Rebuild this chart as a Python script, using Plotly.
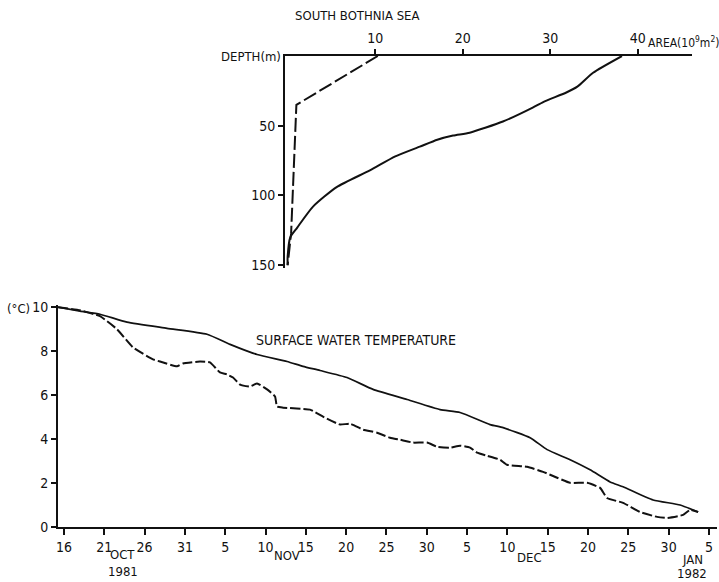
import plotly.graph_objects as go

# ---- South Bothnia Sea hypsography (area vs depth) ----
area_total = [38.2, 34.9, 33.1, 31.9, 29.2, 28.0, 24.6, 20.8, 18.9, 17.1, 15.1,
              12.3, 9.4, 5.6, 2.9, 1.1, 0.3, 0.0, 0.0]
depth_total = [0, 12, 22, 26, 33, 37, 47, 55, 57, 60, 65,
               72, 82, 94, 108, 123, 130, 144, 150]

area_deep = [10.3, 1.0, 0.4, 0.0]
depth_deep = [0, 35, 127, 150]

area_ticks = [10, 20, 30, 40]
depth_ticks = [50, 100, 150]

# ---- Surface water temperature, days counted from 16 Oct 1981 ----
day_solid = [-0.74, 2.0, 4.47, 7.82, 12.78, 17.74, 20.6, 23.95, 27.67, 29.65,
             31.76, 35.11, 38.34, 42.56, 46.65, 49.13, 52.85, 54.47, 57.82,
             59.93, 62.78, 65.26, 67.74, 69.35, 73.08, 76.43, 78.66]
temp_solid = [10.0, 9.82, 9.68, 9.32, 9.04, 8.77, 8.31, 7.85, 7.53, 7.31,
              7.12, 6.80, 6.26, 5.80, 5.34, 5.21, 4.66, 4.52, 4.06,
              3.52, 3.06, 2.60, 2.05, 1.83, 1.23, 1.00, 0.68]

day_dashed = [-0.74, 2.0, 4.47, 6.58, 8.56, 11.04, 11.91, 14.02, 14.76, 16.87,
              18.11, 19.35, 20.22, 20.97, 21.84, 23.08, 23.95, 25.19, 26.18,
              26.43, 27.17, 30.52, 32.13, 34.24, 35.48, 37.10, 38.83, 40.45,
              41.69, 43.30, 45.04, 46.28, 47.89, 49.13, 50.37, 51.24, 52.48,
              54.09, 54.96, 57.44, 59.43, 61.17, 62.78, 64.89, 66.50, 67.37,
              69.35, 71.46, 73.57, 74.81, 76.80, 77.67, 78.66]
temp_dashed = [10.0, 9.86, 9.59, 9.0, 8.17, 7.63, 7.53, 7.31, 7.44, 7.53,
               7.49, 7.03, 6.94, 6.80, 6.48, 6.39, 6.53, 6.26, 5.94,
               5.48, 5.43, 5.34, 5.02, 4.66, 4.70, 4.43, 4.29, 4.06,
               3.97, 3.84, 3.84, 3.65, 3.61, 3.70, 3.61, 3.38, 3.24,
               3.06, 2.83, 2.74, 2.51, 2.24, 2.01, 2.01, 1.78, 1.32,
               1.10, 0.68, 0.46, 0.41, 0.55, 0.78, 0.68]

day_ticks = list(range(0, 81, 5))
day_tick_labels = ["16", "21", "26", "31", "5", "10", "15", "20", "25", "30",
                   "5", "10", "15", "20", "25", "30", "5"]
temp_ticks = [0, 2, 4, 6, 8, 10]

# month labels: (text, day position, pixel y of centre)
month_labels = [("OCT", 7.3, 554), ("1981", 7.3, 571), ("NOV", 27.7, 555),
                ("DEC", 57.7, 557), ("JAN", 77.9, 559), ("1982", 77.9, 573)]

W, H = 719, 582
FONT = "DejaVu Sans Condensed, Liberation Sans Narrow, Arial Narrow, sans-serif"
INK = "#111111"


def px(x):
    return x / W


def py(y):
    return 1 - y / H


fig = go.Figure()

fig.add_trace(go.Scatter(x=area_total, y=depth_total, mode="lines",
                         line=dict(color=INK, width=2, shape="spline", smoothing=0.6),
                         xaxis="x2", yaxis="y2"))
fig.add_trace(go.Scatter(x=area_deep, y=depth_deep, mode="lines",
                         line=dict(color=INK, width=2, dash="14px,4px"),
                         xaxis="x2", yaxis="y2"))

fig.add_trace(go.Scatter(x=day_solid, y=temp_solid, mode="lines",
                         line=dict(color=INK, width=1.7, shape="spline", smoothing=0.5),
                         xaxis="x", yaxis="y"))
fig.add_trace(go.Scatter(x=day_dashed, y=temp_dashed, mode="lines",
                         line=dict(color=INK, width=2, dash="10px,3px",
                                   shape="spline", smoothing=0.4),
                         xaxis="x", yaxis="y"))

tickfont = dict(family=FONT, size=14, color=INK)

fig.update_layout(
    width=W, height=H,
    margin=dict(l=0, r=0, t=0, b=0, autoexpand=False),
    paper_bgcolor="white", plot_bgcolor="white",
    showlegend=False,
    # temperature panel
    xaxis=dict(domain=[px(58), px(717)], range=[-0.74, 81.0],
               showline=True, linecolor=INK, linewidth=2,
               ticks="outside", ticklen=6, tickwidth=2, tickcolor=INK,
               tickvals=day_ticks, ticktext=day_tick_labels,
               tickfont=tickfont, showgrid=False, zeroline=False,
               anchor="y"),
    yaxis=dict(domain=[py(527), py(305)], range=[0, 10.1],
               showline=True, linecolor=INK, linewidth=2,
               ticks="outside", ticklen=5, tickwidth=2, tickcolor=INK,
               tickvals=temp_ticks, tickfont=tickfont,
               showgrid=False, zeroline=False, anchor="x"),
    # hypsography panel
    xaxis2=dict(domain=[px(285), px(692)], range=[-0.3, 46.2],
                side="top", anchor="y2",
                showline=True, linecolor=INK, linewidth=2,
                ticks="outside", ticklen=5, tickwidth=2, tickcolor=INK,
                tickvals=area_ticks, tickfont=tickfont,
                showgrid=False, zeroline=False),
    yaxis2=dict(domain=[py(268), py(56)], range=[152, 0],
                anchor="x2",
                showline=True, linecolor=INK, linewidth=2,
                ticks="outside", ticklen=5, tickwidth=2, tickcolor=INK,
                tickvals=depth_ticks, tickfont=tickfont,
                showgrid=False, zeroline=False),
)


def label(text, x, y, size=13, xanchor="center", xref="paper"):
    return dict(text=text, x=x, y=y, xref=xref, yref="paper",
                xanchor=xanchor, yanchor="middle", showarrow=False,
                font=dict(family=FONT, size=size, color=INK))


annotations = [
    label("SOUTH BOTHNIA SEA", px(357), py(15)),
    label("DEPTH(m)", px(283), py(57), xanchor="right"),
    label("AREA(10<sup>9</sup>m<sup>2</sup>)", px(646), py(42), size=12, xanchor="left"),
    label("SURFACE WATER TEMPERATURE", px(356), py(340), size=14),
    label("(°C)", px(32), py(308), xanchor="right"),
]
for text, day, ypix in month_labels:
    annotations.append(label(text, day, py(ypix), xref="x"))

fig.update_layout(annotations=annotations)

fig.write_html("out.html")
